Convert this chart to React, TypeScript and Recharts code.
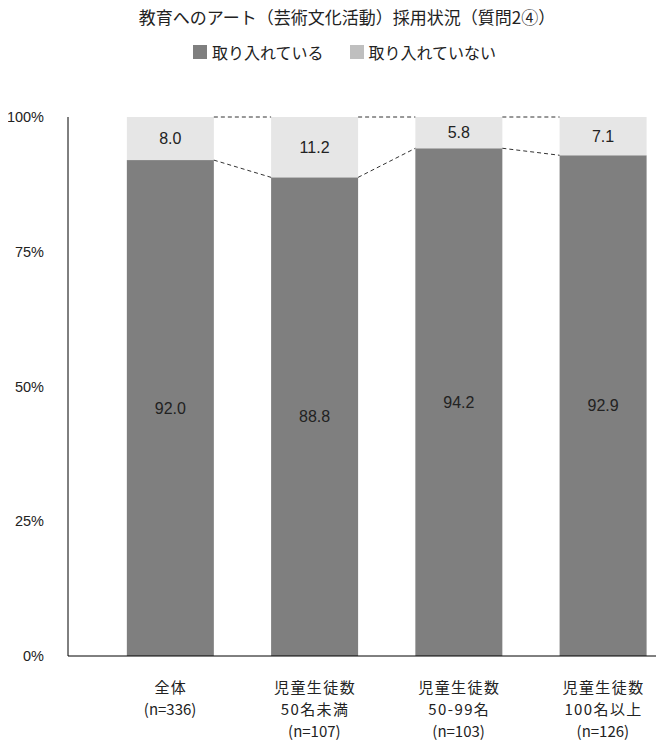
import React from "react";
import { BarChart, Bar, XAxis, YAxis, LabelList } from "recharts";

const categoryLines: string[][] = [
  ["全体", "(n=336)"],
  ["児童生徒数", "50名未満", "(n=107)"],
  ["児童生徒数", "50-99名", "(n=103)"],
  ["児童生徒数", "100名以上", "(n=126)"],
];
const adopted = [92.0, 88.8, 94.2, 92.9];
const notAdopted = [8.0, 11.2, 5.8, 7.1];
const yTicks = [0, 25, 50, 75, 100];
const seriesNames = ["取り入れている", "取り入れていない"];
const titleText = "教育へのアート（芸術文化活動）採用状況（質問2④）";

const data = categoryLines.map((lines, i) => ({
  name: lines.join("\n"),
  adopted: adopted[i],
  notAdopted: notAdopted[i],
}));

const DARK = "#7f7f7f";
const LIGHT = "#e6e6e6";
const LEGEND_LIGHT = "#bfbfbf";
const JP = '"Noto Sans CJK JP", "Noto Sans", sans-serif';
const NUM = '"Liberation Sans", Arial, sans-serif';

const segs: { x: number; y: number; width: number; height: number }[] = [];

const LightShape = (props: any) => {
  const { x, y, width, height, index, fill } = props;
  segs[index] = { x, y, width, height };
  const prev = index > 0 ? segs[index - 1] : null;
  return (
    <g>
      <rect x={x} y={y} width={width} height={height} fill={fill} />
      {prev && (
        <g stroke="#333" strokeWidth={1} strokeDasharray="4 3" fill="none">
          <line x1={prev.x + prev.width} y1={prev.y} x2={x} y2={y} />
          <line
            x1={prev.x + prev.width}
            y1={prev.y + prev.height}
            x2={x}
            y2={y + height}
          />
        </g>
      )}
    </g>
  );
};

const CategoryTick = (props: any) => {
  const { x, y, payload } = props;
  const lines = String(payload.value).split("\n");
  return (
    <g>
      {lines.map((l, i) => {
        const isCount = l.startsWith("(");
        const ls = isCount ? 0 : 1.4;
        return (
          <text
            key={i}
            x={x + ls / 2}
            y={y + 37 + i * 22}
            textAnchor="middle"
            fontFamily={JP}
            fontSize={15}
            letterSpacing={ls}
            fill="#222"
          >
            {l}
          </text>
        );
      })}
    </g>
  );
};

export default function App() {
  return (
    <div
      style={{
        position: "relative",
        width: 664,
        height: 740,
        margin: "-8px 0 0 -8px",
        overflow: "hidden",
        background: "#fff",
      }}
    >
      <div
        style={{
          position: "absolute",
          top: 5,
          left: 0,
          width: 694,
          textAlign: "center",
          fontFamily: JP,
          fontSize: 17,
          color: "#222",
          lineHeight: "24px",
        }}
      >
        {titleText}
      </div>
      <div
        style={{
          position: "absolute",
          top: 41,
          left: 193,
          display: "flex",
          alignItems: "center",
          fontFamily: JP,
          fontSize: 16,
          color: "#222",
          lineHeight: "22px",
        }}
      >
        <span
          style={{ display: "inline-block", width: 14, height: 14, background: DARK, marginRight: 5 }}
        />
        <span style={{ marginRight: 26 }}>{seriesNames[0]}</span>
        <span
          style={{ display: "inline-block", width: 14, height: 14, background: LEGEND_LIGHT, marginRight: 5 }}
        />
        <span>{seriesNames[1]}</span>
      </div>
      <BarChart
        width={675}
        height={740}
        data={data}
        margin={{ top: 117, right: 0, bottom: 0, left: 0 }}
        barCategoryGap="20%"
      >
        <YAxis
          type="number"
          domain={[0, 100]}
          ticks={yTicks}
          width={68}
          tickFormatter={(v: number) => `${v}%`}
          tickLine={false}
          tickSize={0}
          tickMargin={24}
          axisLine={{ stroke: "#000" }}
          tick={{ fontFamily: NUM, fontSize: 14.5, fill: "#222" }}
        />
        <XAxis
          dataKey="name"
          height={84}
          interval={0}
          tickLine={false}
          tickSize={0}
          tickMargin={0}
          axisLine={{ stroke: "#000" }}
          padding={{ left: 30, right: 0 }}
          tick={<CategoryTick />}
        />
        <Bar dataKey="adopted" stackId="a" fill={DARK} isAnimationActive={false}>
          <LabelList
            dataKey="adopted"
            position="center"
            formatter={(v: any) => Number(v).toFixed(1)}
            style={{ fontFamily: NUM, fontSize: 16, fill: "#222" }}
          />
        </Bar>
        <Bar
          dataKey="notAdopted"
          stackId="a"
          fill={LIGHT}
          isAnimationActive={false}
          shape={<LightShape />}
        >
          <LabelList
            dataKey="notAdopted"
            position="center"
            formatter={(v: any) => Number(v).toFixed(1)}
            style={{ fontFamily: NUM, fontSize: 16, fill: "#222" }}
          />
        </Bar>
      </BarChart>
    </div>
  );
}
